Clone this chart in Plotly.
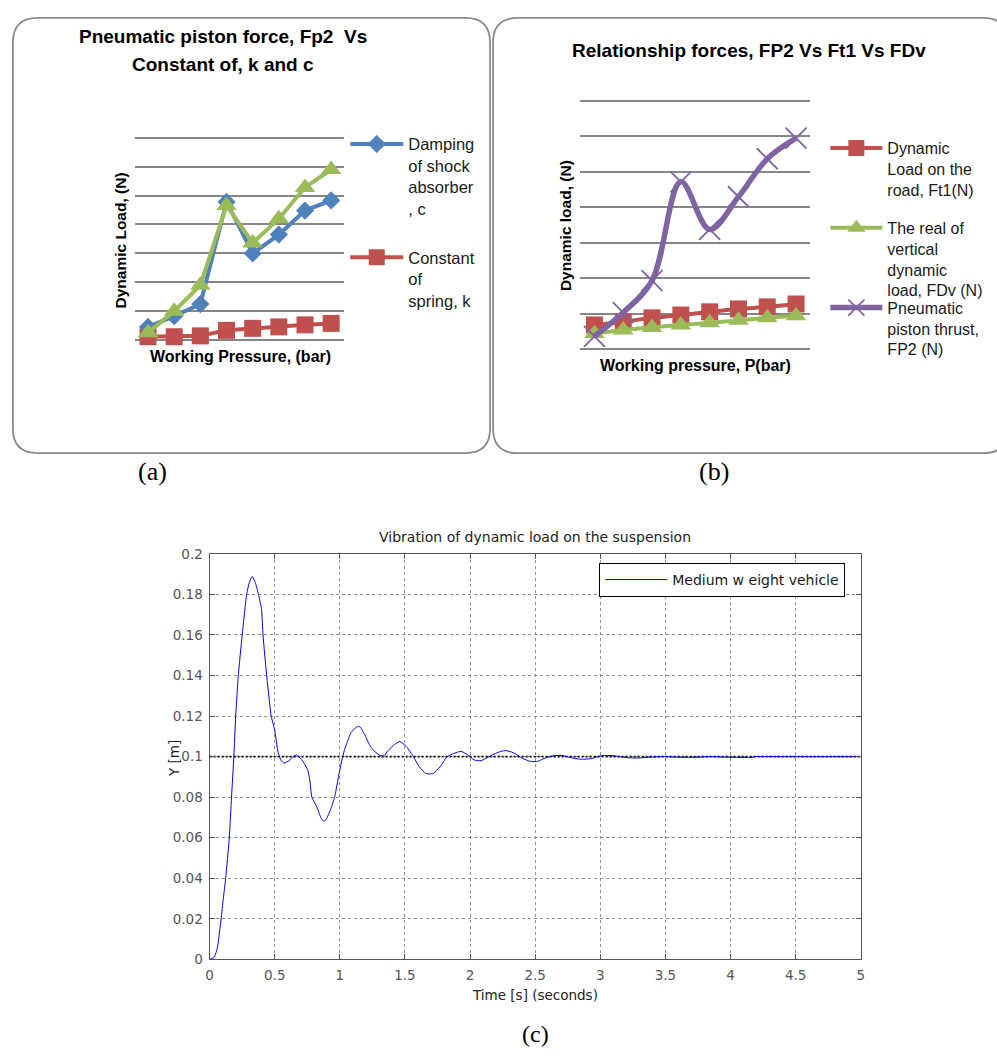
import plotly.graph_objects as go

W, H = 997, 1056

# ---------------- data: panel (a) ----------------
pressure_a = [1, 2, 3, 4, 5, 6, 7, 8]
damping_c = [0.46, 0.83, 1.25, 4.78, 3.00, 3.65, 4.48, 4.83]
spring_k = [0.12, 0.12, 0.15, 0.34, 0.41, 0.46, 0.53, 0.58]
piston_fp2_a = [0.26, 1.00, 1.90, 4.66, 3.36, 4.20, 5.28, 5.90]

# ---------------- data: panel (b) ----------------
pressure_b = [1, 2, 3, 4, 5, 6, 7, 8]
road_ft1 = [0.69, 0.78, 0.89, 0.97, 1.06, 1.14, 1.20, 1.28]
vertical_fdv = [0.45, 0.55, 0.62, 0.69, 0.75, 0.82, 0.89, 0.95]
thrust_fp2 = [0.37, 1.04, 1.94, 4.72, 3.38, 4.30, 5.37, 5.95]

# ---------------- data: panel (c) ----------------
time_s = [
    0.000, 0.035, 0.060, 0.088, 0.105, 0.123, 0.151, 0.168, 0.186, 0.200,
    0.220, 0.250, 0.284, 0.305, 0.326, 0.350, 0.375, 0.398, 0.410, 0.438,
    0.473, 0.500, 0.526, 0.550, 0.571, 0.610, 0.640, 0.666, 0.700, 0.725,
    0.753, 0.770, 0.785, 0.820, 0.858, 0.879, 0.900, 0.935, 0.963, 0.990,
    1.016, 1.034, 1.050, 1.086, 1.128, 1.153, 1.190, 1.226, 1.260, 1.310,
    1.340, 1.370, 1.420, 1.460, 1.510, 1.560, 1.610, 1.660, 1.690, 1.717,
    1.770, 1.820, 1.875, 1.930, 1.980, 2.030, 2.085, 2.137, 2.210, 2.270,
    2.330, 2.400, 2.460, 2.520, 2.575, 2.645, 2.715, 2.785, 2.856, 2.926,
    3.013, 3.100, 3.170, 3.276, 3.380, 3.486, 3.590, 3.766, 3.840, 3.980,
    4.170, 4.190, 4.500, 5.000]
disp_m = [
    0.0000, 0.0010, 0.0060, 0.0200, 0.0300, 0.0400, 0.0600, 0.0800, 0.1000, 0.1200,
    0.1400, 0.1600, 0.1800, 0.1860, 0.1888, 0.1860, 0.1800, 0.1730, 0.1600, 0.1400,
    0.1200, 0.1130, 0.1020, 0.0980, 0.0968, 0.0980, 0.1000, 0.1008, 0.0990, 0.0968,
    0.0935, 0.0880, 0.0800, 0.0756, 0.0694, 0.0680, 0.0697, 0.0750, 0.0810, 0.0903,
    0.0984, 0.1030, 0.1060, 0.1119, 0.1146, 0.1148, 0.1110, 0.1060, 0.1030, 0.1005,
    0.1005, 0.1030, 0.1060, 0.1075, 0.1050, 0.1005, 0.0950, 0.0917, 0.0915, 0.0917,
    0.0950, 0.0998, 0.1016, 0.1026, 0.1010, 0.0984, 0.0980, 0.0997, 0.1020, 0.1030,
    0.1020, 0.0993, 0.0977, 0.0977, 0.0993, 0.1005, 0.1005, 0.0993, 0.0987, 0.0990,
    0.1005, 0.1005, 0.0997, 0.0993, 0.0997, 0.1000, 0.0997, 0.0997, 0.1000, 0.0997,
    0.0997, 0.1000, 0.1000, 0.1000]
ref_t = [0, 5]
ref_y = [0.1, 0.1]

# ---------------- styling ----------------
SANS = "Liberation Sans, Arial, sans-serif"
MATLAB = "DejaVu Sans, Liberation Sans, sans-serif"
SERIF = "Liberation Serif, Times New Roman, serif"
BLUE, RED, GREEN, PURPLE = "#4F81BD", "#C0504D", "#9BBB59", "#8064A2"
GRID = "#868686"


def px(x):
    return x / W


def py(y):
    return 1 - y / H


def ydomain(y0px, y7px, lo=-0.1, hi=7.1):
    """domain so that values 0 and 7 land on the given pixels while the range is padded"""
    unit = (y0px - y7px) / 7.0
    return [py(y0px - lo * unit), py(y7px - (hi - 7) * unit)]


fig = go.Figure()

# panel (a)
fig.add_trace(go.Scatter(x=pressure_a, y=spring_k, name="Constant<br>of<br>spring, k",
                         mode="lines+markers", line=dict(color=RED, width=4),
                         marker=dict(symbol="square", size=17, color=RED),
                         xaxis="x", yaxis="y", legend="legend2", cliponaxis=False))
fig.add_trace(go.Scatter(x=pressure_a, y=damping_c, name="Damping<br>of shock<br>absorber<br>, c",
                         mode="lines+markers", line=dict(color=BLUE, width=4),
                         marker=dict(symbol="diamond", size=14, color=BLUE),
                         xaxis="x", yaxis="y", legend="legend", cliponaxis=False))
fig.add_trace(go.Scatter(x=pressure_a, y=piston_fp2_a, name="Fp2", showlegend=False,
                         mode="lines+markers", line=dict(color=GREEN, width=4),
                         marker=dict(symbol="triangle-up", size=18, color=GREEN),
                         xaxis="x", yaxis="y", cliponaxis=False))

# panel (b)
fig.add_trace(go.Scatter(x=pressure_b, y=road_ft1, name="Dynamic<br>Load on the<br>road, Ft1(N)",
                         mode="lines+markers", line=dict(color=RED, width=4, shape="spline"),
                         marker=dict(symbol="square", size=17, color=RED),
                         xaxis="x2", yaxis="y2", legend="legend3", cliponaxis=False))
fig.add_trace(go.Scatter(x=pressure_b, y=vertical_fdv, name="The real of<br>vertical<br>dynamic<br>load, FDv (N)",
                         mode="lines+markers", line=dict(color=GREEN, width=4, shape="spline"),
                         marker=dict(symbol="triangle-up", size=18, color=GREEN),
                         xaxis="x2", yaxis="y2", legend="legend4", cliponaxis=False))
fig.add_trace(go.Scatter(x=pressure_b, y=thrust_fp2, name="Pneumatic<br>piston thrust,<br>FP2 (N)",
                         mode="lines+markers", line=dict(color=PURPLE, width=5.5, shape="spline", smoothing=1),
                         marker=dict(symbol="x-thin", size=21, color=PURPLE,
                                     line=dict(color=PURPLE, width=1.8)),
                         xaxis="x2", yaxis="y2", legend="legend5", cliponaxis=False))

# panel (c)
fig.add_trace(go.Scatter(x=ref_t, y=ref_y, mode="lines", showlegend=False,
                         line=dict(color="black", width=1.6, dash="2px,2px"),
                         xaxis="x3", yaxis="y3"))
fig.add_trace(go.Scatter(x=time_s, y=disp_m, name="Medium w eight vehicle", mode="lines",
                         line=dict(color="#0000FF", width=1, shape="spline", smoothing=0.5),
                         xaxis="x3", yaxis="y3", legend="legend6"))


def rounded(x0, y0, x1, y1, r):
    pts = [("M", x0 + r, y0), ("L", x1 - r, y0), ("Q", x1, y0, x1, y0 + r),
           ("L", x1, y1 - r), ("Q", x1, y1, x1 - r, y1), ("L", x0 + r, y1),
           ("Q", x0, y1, x0, y1 - r), ("L", x0, y0 + r), ("Q", x0, y0, x0 + r, y0)]
    out = []
    for p in pts:
        cmd, coords = p[0], p[1:]
        pairs = []
        for i in range(0, len(coords), 2):
            pairs.append(f"{px(coords[i]):.5f},{py(coords[i + 1]):.5f}")
        out.append(cmd + " ".join(pairs))
    return " ".join(out) + " Z"


shapes = [
    dict(type="path", xref="paper", yref="paper", path=rounded(9, 10, 490, 452, 25),
         line=dict(color="#8a8a8a", width=1.8), layer="below"),
    dict(type="path", xref="paper", yref="paper", path=rounded(493, 10, 1012, 452, 25),
         line=dict(color="#8a8a8a", width=1.8), layer="below"),
]


def ann(text, x, y, size, family=SANS, bold=False, angle=0, color="#000000"):
    return dict(text=text, x=px(x), y=py(y), xref="paper", yref="paper",
                xanchor="center", yanchor="middle", showarrow=False, textangle=angle,
                font=dict(family=family, size=size, color=color,
                          weight="bold" if bold else "normal"))


annotations = [
    ann("Pneumatic piston force, Fp2 \u00a0Vs", 221, 29, 19, bold=True),
    ann("Constant of, k and c", 221, 57, 19, bold=True),
    ann("Dynamic Load, (N)", 117, 236, 15.5, bold=True, angle=-90),
    ann("Working Pressure, (bar)", 238, 354, 16, bold=True),
    ann("Relationship forces, FP2 Vs Ft1 Vs FDv", 751, 43, 19, bold=True),
    ann("Dynamic load, (N)", 566, 221, 15.5, bold=True, angle=-90),
    ann("Working pressure, P(bar)", 697, 363, 16, bold=True),
    ann("(a)", 150, 471, 26, family=SERIF),
    ann("(b)", 716, 471, 26, family=SERIF),
    ann("(c)", 536, 1042, 24, family=SERIF),
    ann("Vibration of dynamic load on the suspension", 535, 537, 14, family=MATLAB, color="#222222"),
    ann("Y [m]", 172, 762, 13.5, family=MATLAB, angle=-90, color="#222222"),
    ann("Time [s] (seconds)", 535, 1002, 13.5, family=MATLAB, color="#222222"),
]


def leg(x_text, y_first, iw, size=16.5, family=SANS, **kw):
    off = 5 + 0.69 * size  # legend top -> centre of its first text line
    d = dict(x=px(x_text - iw - 13), y=py(y_first - off), xanchor="left", yanchor="top",
             xref="paper", yref="paper", itemwidth=iw, valign="top",
             bgcolor="rgba(0,0,0,0)", borderwidth=0,
             font=dict(family=family, size=size, color="#1a1a1a"))
    d.update(kw)
    return d


blank_axis = dict(showticklabels=False, ticks="", showline=False, zeroline=False)

fig.update_layout(
    width=W, height=H, autosize=False,
    margin=dict(l=0, r=0, t=0, b=0, pad=0),
    paper_bgcolor="white", plot_bgcolor="rgba(0,0,0,0)",
    showlegend=True,
    xaxis=dict(domain=[px(132), px(343)], range=[0.5, 8.5], showgrid=False, **blank_axis),
    yaxis=dict(domain=ydomain(337.3, 131.7), range=[-0.1, 7.1], tick0=0, dtick=1, showgrid=True,
               gridcolor=GRID, gridwidth=1.5, **blank_axis),
    xaxis2=dict(domain=[px(580.7), px(813)], range=[0.5, 8.5], showgrid=False,
                anchor="y2", **blank_axis),
    yaxis2=dict(domain=ydomain(346.7, 94.3), range=[-0.1, 7.1], tick0=0, dtick=1, showgrid=True,
                gridcolor=GRID, gridwidth=1.5, anchor="x2", **blank_axis),
    xaxis3=dict(domain=[px(207.3), px(863.7)], range=[0, 5], dtick=0.5, anchor="y3",
                showgrid=True, gridcolor="#8f8f8f", gridwidth=1, griddash="dot",
                showline=True, mirror="ticks", linecolor="#555555", linewidth=1.3,
                ticks="inside", ticklen=5, tickcolor="#555555", zeroline=False,
                tickfont=dict(family=MATLAB, size=13.5, color="#555555"), ticklabelstandoff=3),
    yaxis3=dict(domain=[py(966), py(554.3)], range=[0, 0.2], dtick=0.02, anchor="x3",
                showgrid=True, gridcolor="#8f8f8f", gridwidth=1, griddash="dot",
                showline=True, mirror="ticks", linecolor="#555555", linewidth=1.3,
                ticks="inside", ticklen=5, tickcolor="#555555", zeroline=False,
                tickfont=dict(family=MATLAB, size=13.5, color="#555555"), ticklabelstandoff=3),
    legend=leg(410, 137, 53),
    legend2=leg(410, 252, 53),
    legend3=leg(893, 141, 52, size=16),
    legend4=leg(893, 222, 52, size=16),
    legend5=leg(893, 303, 52, size=16),
    legend6=dict(x=px(600), y=py(563.5), xanchor="left", yanchor="top", xref="paper",
                 yref="paper", itemwidth=62, valign="middle", bgcolor="white",
                 bordercolor="#000000", borderwidth=1,
                 font=dict(family=MATLAB, size=14, color="#1a1a1a")),
    shapes=shapes,
    annotations=annotations,
)

# let the 997x1056 figure fill the page exactly (no default 8px body margin)
fig.write_html("out.html", config={"displayModeBar": False},
               post_script="document.body.style.margin='0px';document.body.style.overflow='hidden';")
